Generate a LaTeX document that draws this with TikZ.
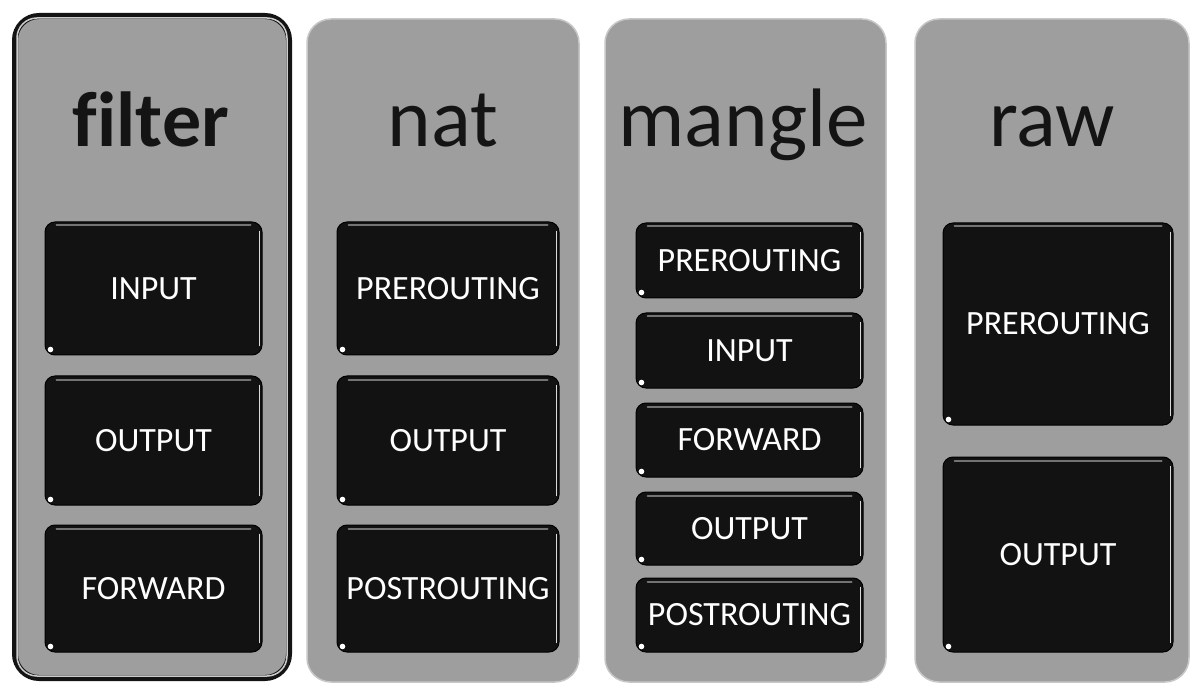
\documentclass[tikz,border=0pt]{standalone}
\usepackage{fontspec}
\setmainfont{Carlito}[Ligatures=NoCommon]
\begin{document}
\begin{tikzpicture}[x=1pt,y=-1pt,
  panel/.style={draw=black!22, line width=1.5pt, fill=black!38, rounded corners=24pt, inner sep=0pt},
  selpanel/.style={draw=black!92, line width=6pt, fill=black!38, rounded corners=24pt, inner sep=0pt},
  btn/.style={draw=black, line width=1pt, fill=black!93, rounded corners=10pt, inner sep=0pt,
    text=white, font=\fontsize{34}{36}\selectfont},
  title/.style={font=\fontsize{83}{90}\selectfont, text=black!92, anchor=base, inner sep=0pt},
  shine/.style={black!15, line width=1.4pt, line cap=round},
  topline/.style={black!55, line width=2pt, line cap=round},
  dot/.style={fill=white}]
\useasboundingbox[fill=white] (0,0) rectangle (1191,684);

\newcommand\mkbtn[6]{%
  \node[btn, minimum width=#4pt, minimum height=#5pt] (#1) at (#2,#3) {#6};
  \draw[shine] ([xshift=-3pt,yshift=-10pt]#1.north east) -- ([xshift=-3pt,yshift=10pt]#1.south east);
  \draw[topline] ([xshift=12pt,yshift=-4pt]#1.north west) -- ([xshift=-12pt,yshift=-4pt]#1.north east);
  \fill[dot] ([xshift=6pt,yshift=6pt]#1.south west) circle (2.8pt);
}

% panels
\node[selpanel, minimum width=274pt, minimum height=662pt] (pfilter) at (152,347) {};
\draw[black!20, line width=1.5pt, rounded corners=20pt] ([shift={(5pt,-5pt)}]pfilter.north west) rectangle ([shift={(-5pt,5pt)}]pfilter.south east);
\node[panel, minimum width=272pt, minimum height=663pt] (pnat) at (443,350.5) {};
\node[panel, minimum width=281pt, minimum height=663pt] (pmangle) at (745.5,350.5) {};
\node[panel, minimum width=274pt, minimum height=663pt] (praw) at (1052,350.5) {};

% titles
\node[title, font=\bfseries\fontsize{78}{84}\selectfont] (tfilter) at (151,147) {filter};
\node[title] (tnat) at (443,147) {nat};
\node[title] (tmangle) at (743,147) {mangle};
\node[title] (traw) at (1052,147) {raw};

% filter
\mkbtn{fin}{153.5}{288.5}{217}{133}{INPUT}
\mkbtn{fout}{153.5}{440.5}{217}{129}{OUTPUT}
\mkbtn{ffwd}{153.5}{588.5}{217}{127}{FORWARD}

% nat
\mkbtn{npre}{448}{288.5}{222}{133}{PREROUTING}
\mkbtn{nout}{448}{440.5}{222}{129}{OUTPUT}
\mkbtn{npost}{448}{588.5}{222}{127}{POSTROUTING}

% mangle
\mkbtn{mpre}{749.5}{260.5}{227}{75}{PREROUTING}
\mkbtn{min}{749.5}{350.5}{227}{75}{INPUT}
\mkbtn{mfwd}{749.5}{440}{227}{74}{FORWARD}
\mkbtn{mout}{749.5}{528.5}{227}{73}{OUTPUT}
\mkbtn{mpost}{749.5}{615}{227}{74}{POSTROUTING}

% raw
\mkbtn{rpre}{1058}{324}{230}{202}{PREROUTING}
\mkbtn{rout}{1058}{554.5}{230}{195}{OUTPUT}
\end{tikzpicture}
\end{document}
